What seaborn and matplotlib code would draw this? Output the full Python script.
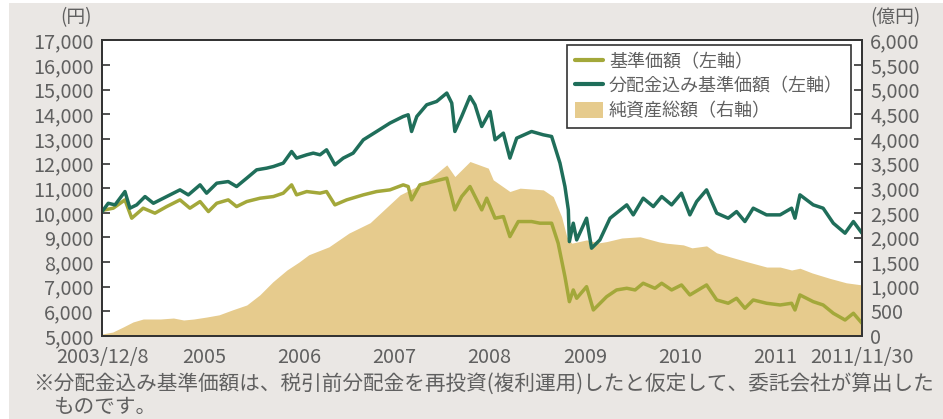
import pandas as pd
import seaborn as sns
import matplotlib.pyplot as plt
from matplotlib.patches import Rectangle, Patch
from matplotlib.lines import Line2D
from matplotlib.ticker import FuncFormatter

# 基準価額 (left axis, yen)
nav_dates = ['2003-12-08', '2004-01-20', '2004-03-05', '2004-03-31', '2004-05-14', '2004-06-28',
             '2004-08-12', '2004-10-02', '2004-11-09', '2004-12-18', '2005-01-19', '2005-02-20',
             '2005-04-05', '2005-05-07', '2005-06-15', '2005-08-05', '2005-09-25', '2005-11-02',
             '2005-12-04', '2005-12-23', '2006-01-31', '2006-03-23', '2006-04-17', '2006-05-19',
             '2006-07-03', '2006-09-05', '2006-10-26', '2006-12-16', '2007-02-05', '2007-02-24',
             '2007-03-09', '2007-04-10', '2007-05-31', '2007-07-22', '2007-08-22', '2007-09-17',
             '2007-10-19', '2007-12-03', '2007-12-22', '2008-01-23', '2008-02-24', '2008-03-20',
             '2008-04-21', '2008-06-11', '2008-07-13', '2008-08-27', '2008-09-21', '2008-10-17',
             '2008-11-03', '2008-11-18', '2008-12-01', '2009-01-08', '2009-02-03', '2009-03-26',
             '2009-05-03', '2009-06-11', '2009-07-13', '2009-08-13', '2009-09-27', '2009-10-23',
             '2009-11-30', '2010-01-07', '2010-02-08', '2010-04-13', '2010-05-22', '2010-07-05',
             '2010-08-06', '2010-09-07', '2010-10-09', '2010-11-29', '2011-01-20', '2011-03-05',
             '2011-03-18', '2011-04-06', '2011-05-27', '2011-07-04', '2011-08-12', '2011-09-26',
             '2011-10-28', '2011-11-30']
nav_values = [10100, 10190, 10528, 9784, 10190, 9988,
              10256, 10528, 10190, 10460, 10053, 10392,
              10528, 10256, 10460, 10596, 10663, 10800,
              11138, 10732, 10866, 10800, 10866, 10325,
              10528, 10732, 10866, 10935, 11138, 11070,
              10528, 11138, 11272, 11410, 10122, 10663,
              11070, 10122, 10596, 9784, 9851, 9037,
              9648, 9648, 9581, 9581, 8768, 7412,
              6394, 6870, 6532, 7004, 6057, 6598,
              6870, 6938, 6870, 7142, 6938, 7142,
              6870, 7073, 6667, 7073, 6463, 6330,
              6532, 6126, 6463, 6330, 6260, 6330,
              6057, 6667, 6394, 6260, 5923, 5650,
              5923, 5516]

# 分配金込み基準価額 (left axis, yen)
total_dates = ['2003-12-08', '2004-01-01', '2004-01-27', '2004-03-05', '2004-03-24', '2004-04-19',
               '2004-05-21', '2004-06-22', '2004-08-12', '2004-10-02', '2004-11-03', '2004-12-18',
               '2005-01-12', '2005-02-20', '2005-04-05', '2005-05-07', '2005-06-15', '2005-07-23',
               '2005-08-30', '2005-09-25', '2005-11-02', '2005-12-04', '2005-12-23', '2006-01-31',
               '2006-02-25', '2006-03-23', '2006-04-17', '2006-05-19', '2006-06-20', '2006-07-28',
               '2006-09-05', '2006-10-26', '2006-12-16', '2007-02-05', '2007-02-24', '2007-03-09',
               '2007-03-29', '2007-05-06', '2007-06-13', '2007-07-22', '2007-08-10', '2007-08-22',
               '2007-09-17', '2007-10-19', '2007-11-07', '2007-12-03', '2007-12-28', '2008-01-04',
               '2008-01-23', '2008-02-24', '2008-03-20', '2008-04-15', '2008-06-11', '2008-07-26',
               '2008-08-27', '2008-09-28', '2008-10-17', '2008-10-30', '2008-11-03', '2008-11-18',
               '2008-12-01', '2009-01-08', '2009-01-27', '2009-02-28', '2009-04-08', '2009-06-11',
               '2009-07-06', '2009-08-13', '2009-09-21', '2009-10-23', '2009-11-30', '2010-01-07',
               '2010-02-08', '2010-03-06', '2010-04-13', '2010-05-22', '2010-07-05', '2010-08-06',
               '2010-09-07', '2010-10-09', '2010-11-29', '2011-01-20', '2011-03-05', '2011-03-18',
               '2011-04-06', '2011-05-27', '2011-07-04', '2011-08-12', '2011-09-26', '2011-10-28',
               '2011-11-30']
total_values = [10050, 10390, 10325, 10866, 10190, 10325,
                10663, 10390, 10663, 10935, 10730, 11138,
                10800, 11206, 11272, 11070, 11410, 11748,
                11816, 11882, 12020, 12492, 12224, 12358,
                12427, 12358, 12561, 11951, 12224, 12427,
                12967, 13305, 13646, 13915, 13984, 13305,
                13915, 14390, 14524, 14866, 14459, 13305,
                13915, 14727, 14390, 13508, 13984, 14118,
                12967, 13238, 12224, 13035, 13305, 13170,
                13102, 12020, 11070, 10122, 8833, 9581,
                8902, 9784, 8565, 8902, 9784, 10325,
                9919, 10596, 10256, 10663, 10325, 10800,
                9919, 10460, 10935, 9988, 9784, 10053,
                9648, 10190, 9919, 9919, 10190, 9784,
                10732, 10325, 10190, 9581, 9175, 9648,
                9175]

# 純資産総額 (right axis, 億円)
asset_dates = ['2003-12-08', '2004-01-18', '2004-02-26', '2004-04-05', '2004-05-14', '2004-07-19',
               '2004-09-07', '2004-10-16', '2004-11-24', '2005-01-12', '2005-03-01', '2005-04-21',
               '2005-06-15', '2005-08-04', '2005-09-23', '2005-11-16', '2006-01-01', '2006-02-08',
               '2006-04-26', '2006-07-12', '2006-10-01', '2007-01-24', '2007-05-06', '2007-07-22',
               '2007-08-22', '2007-10-19', '2007-12-28', '2008-01-16', '2008-03-20', '2008-04-28',
               '2008-07-26', '2008-09-02', '2008-10-04', '2008-10-24', '2008-11-12', '2009-01-08',
               '2009-02-23', '2009-03-26', '2009-05-23', '2009-08-01', '2009-10-13', '2009-11-11',
               '2010-01-14', '2010-02-16', '2010-04-13', '2010-05-21', '2010-07-10', '2010-09-14',
               '2010-11-30', '2011-01-20', '2011-03-05', '2011-04-06', '2011-05-23', '2011-07-30',
               '2011-10-01', '2011-11-30']
asset_values = [40, 80, 180, 285, 345, 345,
                365, 325, 345, 385, 430, 530,
                630, 835, 1100, 1340, 1500, 1650,
                1810, 2090, 2300, 2866, 3136, 3475,
                3238, 3543, 3408, 3171, 2934, 3002,
                2967, 2831, 2425, 2018, 1884, 1951,
                1890, 1917, 1990, 2015, 1910, 1884,
                1850, 1790, 1830, 1690, 1610, 1510,
                1400, 1400, 1340, 1376, 1280, 1170,
                1080, 1037]

tick_dates = ['2003-12-08', '2005-01-01', '2006-01-01', '2007-01-01', '2008-01-01',
              '2009-01-01', '2010-01-01', '2011-01-01', '2011-11-30']
tick_labels = ['2003/12/8', '2005', '2006', '2007', '2008', '2009', '2010', '2011', '2011/11/30']

df_nav = pd.DataFrame({'date': pd.to_datetime(nav_dates), 'value': nav_values})
df_total = pd.DataFrame({'date': pd.to_datetime(total_dates), 'value': total_values})
df_asset = pd.DataFrame({'date': pd.to_datetime(asset_dates), 'value': asset_values})

sns.set_theme(style='white')
plt.rcParams['font.family'] = ['Noto Sans CJK JP', 'DejaVu Sans']

c_nav = '#A3A83A'
c_total = '#1F6E5A'
c_asset = '#E6CB8D'
c_text = '#606060'
c_spine = '#333333'

fig = plt.figure(figsize=(9.43, 4.19), dpi=100)
fig.patch.set_facecolor('white')
fig.patches.append(Rectangle((9 / 943, 0), 1, 416 / 419, transform=fig.transFigure,
                             facecolor='#EAE7E4', edgecolor='none', zorder=-10))

ax = fig.add_axes([102 / 943, 83 / 419, 760 / 943, 295.5 / 419])
ax2 = ax.twinx()
ax.set_zorder(2)
ax.patch.set_visible(False)
ax2.patch.set_visible(True)
ax2.patch.set_facecolor('white')

# net assets area on the right axis
ax2.fill_between(df_asset['date'], 0, df_asset['value'], color=c_asset, linewidth=0)

sns.lineplot(data=df_nav, x='date', y='value', color=c_nav, lw=2.5, ax=ax)
sns.lineplot(data=df_total, x='date', y='value', color=c_total, lw=2.5, ax=ax)

xmin, xmax = pd.Timestamp('2003-12-08'), pd.Timestamp('2011-11-30')
ax.set_xlim(xmin, xmax)
ax.set_ylim(5000, 17000)
ax2.set_ylim(0, 6000)
ax.set_yticks(range(5000, 17001, 1000))
ax2.set_yticks(range(0, 6001, 500))
ax.set_xticks(pd.to_datetime(tick_dates))
ax.set_xticklabels(tick_labels)
fmt = FuncFormatter(lambda v, p: f'{int(v):,}')
ax.yaxis.set_major_formatter(fmt)
ax2.yaxis.set_major_formatter(fmt)
ax.set_xlabel('')
ax.set_ylabel('')
ax2.set_ylabel('')

for a in (ax, ax2):
    for s in a.spines.values():
        s.set_color(c_spine)
        s.set_linewidth(1.3)
    a.tick_params(direction='in', length=6, width=1.2, color=c_spine,
                  labelcolor=c_text, labelsize=14.3, pad=6)
ax.tick_params(axis='x', pad=8)
ax.tick_params(axis='y', left=True, right=False)
ax2.tick_params(axis='y', right=True, left=False)

handles = [Line2D([0], [0], color=c_nav, lw=3),
           Line2D([0], [0], color=c_total, lw=3),
           Patch(facecolor=c_asset, edgecolor='none')]
labels = ['基準価額（左軸）', '分配金込み基準価額（左軸）', '純資産総額（右軸）']
leg = ax.legend(handles, labels, loc='upper right', bbox_to_anchor=(1 - 11 / 760, 1 - 4.5 / 295.5),
                borderaxespad=0, fontsize=13, frameon=True, fancybox=False,
                handlelength=1.55, handleheight=1.0, labelspacing=0.33, borderpad=0.45,
                handletextpad=0.3, labelcolor=c_text)
leg.get_frame().set_edgecolor(c_spine)
leg.get_frame().set_linewidth(1.2)
leg.get_frame().set_alpha(1)

fig.text(92 / 943, 1 - 18 / 419, '(円)', ha='right', va='center', fontsize=13.5, color=c_text)
fig.text(870 / 943, 1 - 18 / 419, '(億円)', ha='left', va='center', fontsize=13.5, color=c_text)

fig.text(33 / 943, 1 - 384 / 419,
         '※分配金込み基準価額は、税引前分配金を再投資(複利運用)したと仮定して、委託会社が算出した',
         ha='left', va='center', fontsize=14.85, color=c_text)
fig.text(53 / 943, 1 - 407 / 419, 'ものです。', ha='left', va='center', fontsize=14.85, color=c_text)

fig.savefig('out.png', dpi=100)
